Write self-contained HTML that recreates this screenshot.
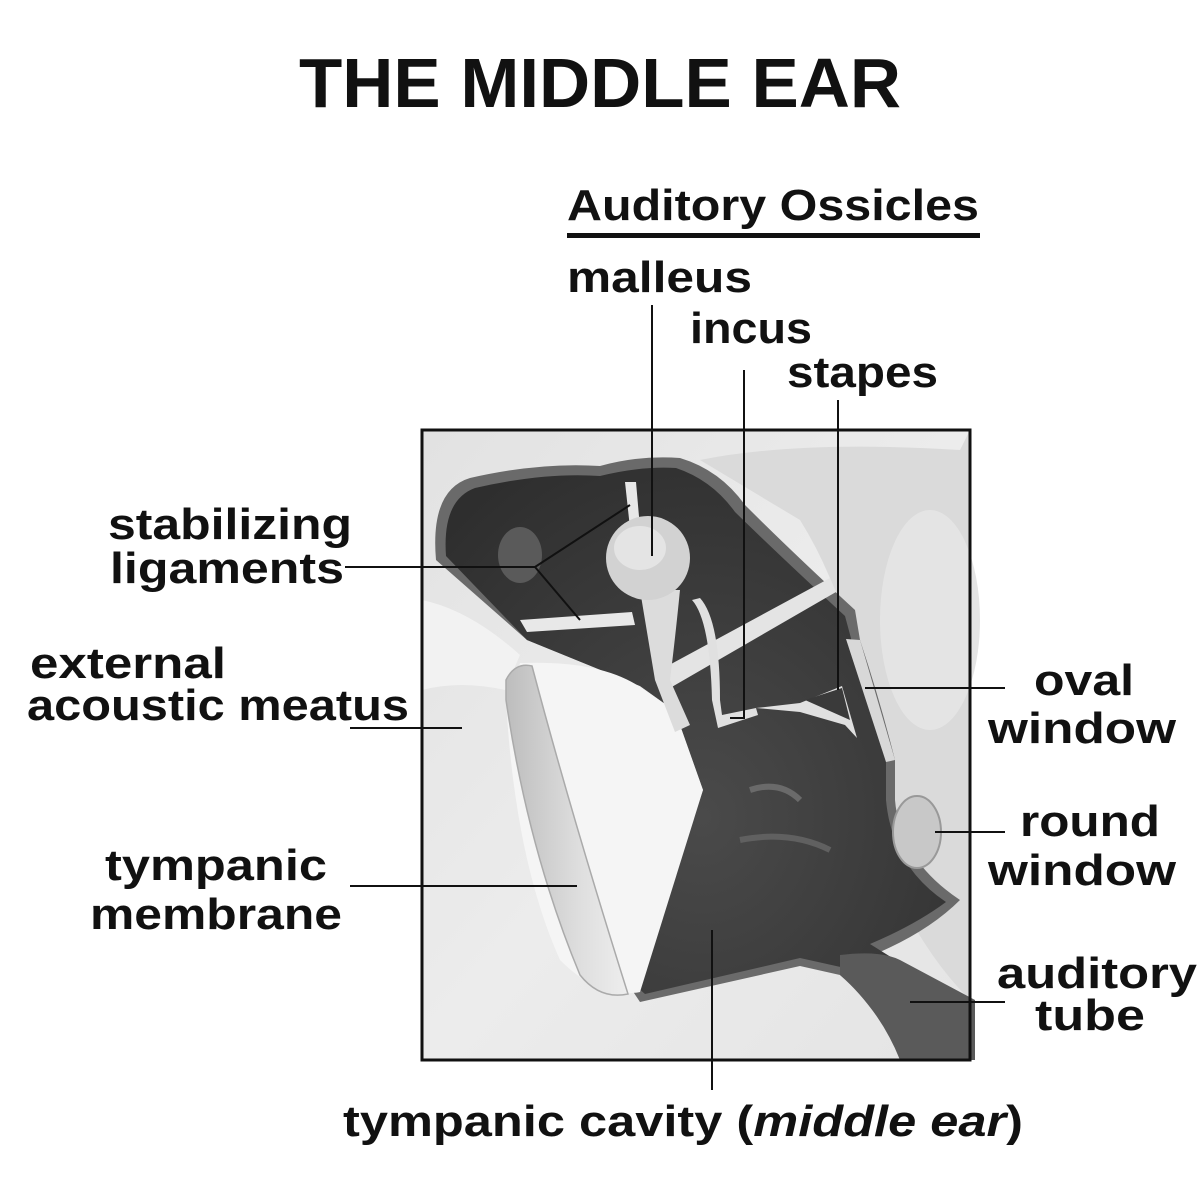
<!DOCTYPE html>
<html><head><meta charset="utf-8"><style>
html,body{margin:0;padding:0;background:#fff}
svg{display:block}
text{font-family:"Liberation Sans",sans-serif;font-weight:bold;fill:#111}
</style></head><body>
<svg width="1200" height="1178" viewBox="0 0 1200 1178" xmlns="http://www.w3.org/2000/svg">
<defs>
<linearGradient id="bg" x1="0" y1="0" x2="1" y2="1">
<stop offset="0" stop-color="#e2e2e2"/><stop offset="0.5" stop-color="#ececec"/><stop offset="1" stop-color="#e4e4e4"/>
</linearGradient>
<radialGradient id="dk" cx="0.5" cy="0.6" r="0.7">
<stop offset="0" stop-color="#4a4a4a"/><stop offset="1" stop-color="#2e2e2e"/>
</radialGradient>
<linearGradient id="cone" x1="0" y1="0" x2="1" y2="0">
<stop offset="0" stop-color="#bdbdbd"/><stop offset="0.6" stop-color="#dedede"/><stop offset="1" stop-color="#eeeeee"/>
</linearGradient>
</defs>

<text x="600" y="107" text-anchor="middle" font-size="70" textLength="602" lengthAdjust="spacingAndGlyphs">THE MIDDLE EAR</text>

<rect x="422" y="430" width="548" height="630" fill="url(#bg)"/>
<path d="M700 460 Q800 440 960 450 L970 430 L970 1000 Q930 960 900 900 Q880 800 860 700 Q850 600 800 520 Z" fill="#dadada"/>
<ellipse cx="930" cy="620" rx="50" ry="110" fill="#e4e4e4"/>
<path d="M422 600 Q470 610 520 655 L505 690 Q460 680 422 690 Z" fill="#f2f2f2"/>
<path d="M436 560 Q430 490 470 478 Q540 462 600 466 Q640 455 680 458 Q720 470 745 505 Q790 550 855 610 L860 640 Q880 700 895 760 L895 800 Q900 860 960 900 Q930 930 880 952 L975 1005 L975 1060 L905 1060 Q870 1000 840 975 L800 966 L640 1002 L632 990 L703 790 L675 711 L640 686 L527 640 Z" fill="#6a6a6a"/>
<path d="M446 556 Q442 500 475 488 Q545 472 600 476 Q640 466 676 468 Q712 480 735 512 Q780 556 845 616 L852 642 Q872 702 886 762 L886 800 Q892 866 946 902 Q915 925 870 944 L960 1000 L960 1050 L912 1050 Q880 995 845 968 L800 958 L645 994 L638 988 L703 790 L675 711 L640 686 L527 640 Z" fill="url(#dk)"/>
<ellipse cx="520" cy="555" rx="22" ry="28" fill="#5a5a5a"/>
<path d="M750 790 Q780 780 800 800" stroke="#6a6a6a" stroke-width="6" fill="none"/>
<path d="M740 840 Q790 830 830 850" stroke="#606060" stroke-width="6" fill="none"/>
<path d="M840 955 Q880 950 900 960 L975 1000 L975 1060 L900 1060 Q880 1010 840 975 Z" fill="#5a5a5a"/>
<path d="M846 639 L860 640 L895 760 L886 762 Z" fill="#d8d8d8"/>
<ellipse cx="917" cy="832" rx="24" ry="36" fill="#c8c8c8" stroke="#999" stroke-width="2"/>
<!-- cone -->
<path d="M520 663 Q600 660 640 687 L675 711 L703 790 L640 992 Q600 1000 560 960 Q515 860 506 700 Z" fill="#f5f5f5"/>
<path d="M506 680 Q515 662 532 666 Q570 810 628 994 Q600 1000 580 975 Q528 850 506 700 Z" fill="url(#cone)" stroke="#aaa" stroke-width="1.5"/>
<!-- ligaments -->
<path d="M520 620 L632 612 L635 625 L527 632 Z" fill="#e8e8e8"/>
<path d="M625 482 L636 482 L640 528 L630 528 Z" fill="#e8e8e8"/>
<path d="M660 670 L830 578 L836 592 L670 688 Z" fill="#e4e4e4"/>
<!-- malleus -->
<path d="M640 590 Q650 650 655 680 L675 732 L690 725 L670 680 Q675 640 680 590 Z" fill="#dcdcdc"/>
<ellipse cx="648" cy="558" rx="42" ry="42" fill="#d2d2d2"/>
<ellipse cx="640" cy="548" rx="26" ry="22" fill="#e4e4e4"/>
<!-- incus -->
<path d="M692 600 Q710 620 712 700 L718 728 L758 715 L756 708 L722 715 L720 700 Q720 620 700 598 Z" fill="#e0e0e0"/>
<!-- stapes -->
<path d="M756 708 L800 703 L842 686 L857 738 L845 725 L800 712 Z" fill="#e0e0e0"/>
<path d="M805 700 L842 688 L850 720 Z" fill="#3a3a3a"/>
<rect x="422" y="430" width="548" height="630" fill="none" stroke="#111" stroke-width="3"/>

<g stroke="#111" stroke-width="2" fill="none">
<polyline points="345,567 535,567 630,505"/>
<line x1="535" y1="567" x2="580" y2="620"/>
<line x1="350" y1="728" x2="462" y2="728"/>
<line x1="350" y1="886" x2="577" y2="886"/>
<line x1="652" y1="305" x2="652" y2="556"/>
<polyline points="744,370 744,718 730,718"/>
<line x1="838" y1="400" x2="838" y2="690"/>
<line x1="865" y1="688" x2="1005" y2="688"/>
<line x1="935" y1="832" x2="1005" y2="832"/>
<line x1="910" y1="1002" x2="1005" y2="1002"/>
<line x1="712" y1="930" x2="712" y2="1090"/>
</g>

<g font-size="44">
<text x="108" y="539" textLength="244" lengthAdjust="spacingAndGlyphs">stabilizing</text>
<text x="110" y="583" textLength="234" lengthAdjust="spacingAndGlyphs">ligaments</text>
<text x="30" y="678" textLength="196" lengthAdjust="spacingAndGlyphs">external</text>
<text x="27" y="720" textLength="382" lengthAdjust="spacingAndGlyphs">acoustic meatus</text>
<text x="105" y="880" textLength="222" lengthAdjust="spacingAndGlyphs">tympanic</text>
<text x="90" y="929" textLength="252" lengthAdjust="spacingAndGlyphs">membrane</text>
<text x="567" y="220" textLength="412" lengthAdjust="spacingAndGlyphs">Auditory Ossicles</text>
<text x="567" y="292" textLength="185" lengthAdjust="spacingAndGlyphs">malleus</text>
<text x="690" y="343" textLength="122" lengthAdjust="spacingAndGlyphs">incus</text>
<text x="787" y="387" textLength="151" lengthAdjust="spacingAndGlyphs">stapes</text>
<text x="1034" y="695" textLength="100" lengthAdjust="spacingAndGlyphs">oval</text>
<text x="988" y="743" textLength="188" lengthAdjust="spacingAndGlyphs">window</text>
<text x="1020" y="836" textLength="140" lengthAdjust="spacingAndGlyphs">round</text>
<text x="988" y="885" textLength="188" lengthAdjust="spacingAndGlyphs">window</text>
<text x="997" y="988" textLength="200" lengthAdjust="spacingAndGlyphs">auditory</text>
<text x="1035" y="1030" textLength="110" lengthAdjust="spacingAndGlyphs">tube</text>
<text x="343" y="1136" textLength="680" lengthAdjust="spacingAndGlyphs">tympanic cavity (<tspan font-style="italic">middle ear</tspan>)</text>
</g>
<rect x="567" y="233" width="413" height="5" fill="#111"/>
</svg>
</body></html>
